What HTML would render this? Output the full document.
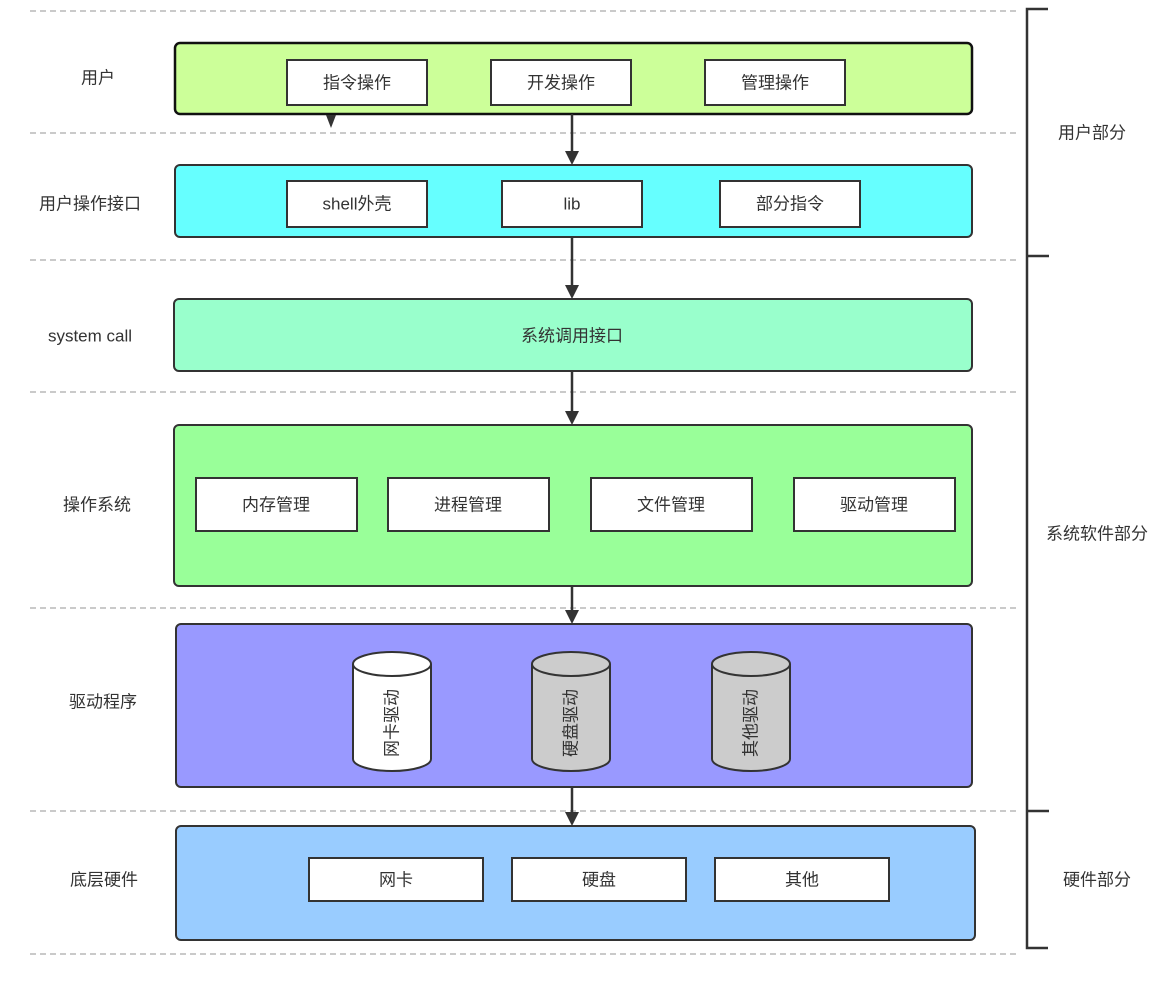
<!DOCTYPE html>
<html><head><meta charset="utf-8"><style>
html,body{margin:0;padding:0;background:#fff;}
svg{display:block;}
text{font-family:"Liberation Sans","Noto Sans CJK SC",sans-serif;font-size:17px;fill:#333;text-anchor:middle;dominant-baseline:central;}
</style></head><body>
<svg width="1155" height="984" viewBox="0 0 1155 984" xmlns="http://www.w3.org/2000/svg">
<defs>
<marker id="ah" markerWidth="10" markerHeight="12" refX="5" refY="12" orient="auto" markerUnits="userSpaceOnUse">
<path d="M0,0 L10,0 L5,12 Z" fill="#333" transform="rotate(-90 5 6) translate(0,0)"/>
</marker>
</defs>
<g stroke="#aaa" stroke-width="1.2" stroke-dasharray="6,4">
<line x1="30" y1="11" x2="1018" y2="11"/>
<line x1="30" y1="133" x2="1018" y2="133"/>
<line x1="30" y1="260" x2="1018" y2="260"/>
<line x1="30" y1="392" x2="1018" y2="392"/>
<line x1="30" y1="608" x2="1018" y2="608"/>
<line x1="30" y1="811" x2="1018" y2="811"/>
<line x1="30" y1="954" x2="1018" y2="954"/>
</g>
<g stroke="#333" stroke-width="2.5" fill="none">
<path d="M1048,9 H1027 V948 H1048"/>
<path d="M1027,256 H1049"/>
<path d="M1027,811 H1049"/>
</g>
<rect x="175" y="43" width="797" height="71" rx="5" fill="#ccff99" stroke="#111" stroke-width="2.5"/>
<rect x="175" y="165" width="797" height="72" rx="5" fill="#66ffff" stroke="#333" stroke-width="2"/>
<rect x="174" y="299" width="798" height="72" rx="5" fill="#99ffcc" stroke="#333" stroke-width="2"/>
<rect x="174" y="425" width="798" height="161" rx="5" fill="#99ff99" stroke="#333" stroke-width="2"/>
<rect x="176" y="624" width="796" height="163" rx="5" fill="#9999ff" stroke="#333" stroke-width="2"/>
<rect x="176" y="826" width="799" height="114" rx="5" fill="#99ccff" stroke="#333" stroke-width="2"/>
<g fill="#fff" stroke="#333" stroke-width="2">
<rect x="287" y="60" width="140" height="45"/>
<rect x="491" y="60" width="140" height="45"/>
<rect x="705" y="60" width="140" height="45"/>
<rect x="287" y="181" width="140" height="46"/>
<rect x="502" y="181" width="140" height="46"/>
<rect x="720" y="181" width="140" height="46"/>
<rect x="196" y="478" width="161" height="53"/>
<rect x="388" y="478" width="161" height="53"/>
<rect x="591" y="478" width="161" height="53"/>
<rect x="794" y="478" width="161" height="53"/>
<rect x="309" y="858" width="174" height="43"/>
<rect x="512" y="858" width="174" height="43"/>
<rect x="715" y="858" width="174" height="43"/>
</g>
<g stroke="#333" stroke-width="2">
<path d="M353,664 V759 A39,12 0 0 0 431,759 V664" fill="#fff"/>
<ellipse cx="392" cy="664" rx="39" ry="12" fill="#fff"/>
<path d="M532,664 V759 A39,12 0 0 0 610,759 V664" fill="#ccc"/>
<ellipse cx="571" cy="664" rx="39" ry="12" fill="#ccc"/>
<path d="M712,664 V759 A39,12 0 0 0 790,759 V664" fill="#ccc"/>
<ellipse cx="751" cy="664" rx="39" ry="12" fill="#ccc"/>
</g>
<g stroke="#333" stroke-width="2.5">
<line x1="572" y1="114" x2="572" y2="152"/>
<line x1="572" y1="237" x2="572" y2="286"/>
<line x1="572" y1="371" x2="572" y2="412"/>
<line x1="572" y1="586" x2="572" y2="611"/>
<line x1="572" y1="787" x2="572" y2="813"/>
</g>
<g fill="#333">
<path d="M565,151 L579,151 L572,165 Z"/>
<path d="M565,285 L579,285 L572,299 Z"/>
<path d="M565,411 L579,411 L572,425 Z"/>
<path d="M565,610 L579,610 L572,624 Z"/>
<path d="M565,812 L579,812 L572,826 Z"/>
<path d="M326,115 L336,115 L331,128 Z"/>
</g>
<text x="98" y="78">用户</text>
<text x="90" y="204">用户操作接口</text>
<text x="90" y="336">system call</text>
<text x="97" y="505">操作系统</text>
<text x="103" y="702">驱动程序</text>
<text x="104" y="880">底层硬件</text>
<text x="1092" y="133">用户部分</text>
<text x="1097" y="534">系统软件部分</text>
<text x="1097" y="880">硬件部分</text>
<text x="357" y="83">指令操作</text>
<text x="561" y="83">开发操作</text>
<text x="775" y="83">管理操作</text>
<text x="357" y="204">shell外壳</text>
<text x="572" y="204">lib</text>
<text x="790" y="204">部分指令</text>
<text x="572" y="336">系统调用接口</text>
<text x="276" y="505">内存管理</text>
<text x="468" y="505">进程管理</text>
<text x="671" y="505">文件管理</text>
<text x="874" y="505">驱动管理</text>
<text x="396" y="880">网卡</text>
<text x="599" y="880">硬盘</text>
<text x="802" y="880">其他</text>
<text x="392" y="723" transform="rotate(-90 392 723)">网卡驱动</text>
<text x="571" y="723" transform="rotate(-90 571 723)">硬盘驱动</text>
<text x="751" y="723" transform="rotate(-90 751 723)">其他驱动</text>
</svg>
</body></html>
